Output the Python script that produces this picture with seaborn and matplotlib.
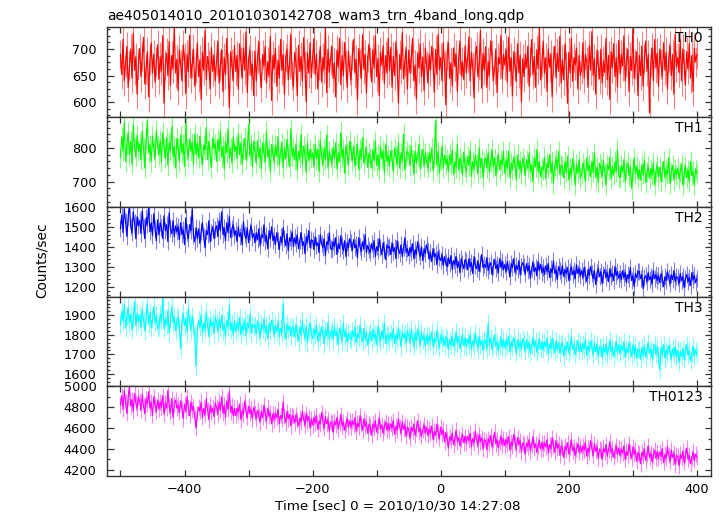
import numpy as np
import pandas as pd
import matplotlib
matplotlib.use("Agg")
import matplotlib.pyplot as plt
import seaborn as sns
from matplotlib.ticker import MultipleLocator, NullFormatter

sns.set_theme(style="ticks")
plt.rcParams["font.family"] = ["DejaVu Sans"]

TITLE = "ae405014010_20101030142708_wam3_trn_4band_long.qdp"
XLABEL = "Time [sec] 0 = 2010/10/30 14:27:08"
YLABEL = "Counts/sec"
bands = ["TH0", "TH1", "TH2", "TH3", "TH0123"]
colors = ["#ff0000", "#00ff00", "#0000ff", "#00ffff", "#ff00ff"]
# typical 1-sigma error bar of each band (counts/sec)
errors = [28, 30, 42, 46, 75]

# time grid of the light curve (seconds from 2010/10/30 14:27:08)
t_start, t_step = -500, 2

th0 = [
    690, 652, 718, 640, 675, 705, 628, 668, 700, 645, 730, 660, 684, 615, 672,
    701, 648, 686, 722, 634, 662, 695, 610, 680, 712, 655, 690, 638, 676, 708,
    643, 685, 660, 725, 598, 670, 692, 650, 714, 632, 688, 664, 741, 655, 680,
    622, 699, 671, 640, 708, 684, 616, 690, 657, 726, 645, 673, 700, 630, 665,
    712, 648, 680, 605, 694, 660, 735, 642, 686, 670, 625, 703, 658, 690, 640,
    677, 715, 636, 668, 699, 620, 684, 652, 720, 664, 590, 695, 672, 640, 706,
    658, 688, 624, 710, 675, 645, 702, 660, 732, 618, 680, 698, 650, 671, 612,
    696, 640, 683, 715, 655, 628, 690, 669, 705, 636, 676, 650, 724, 603, 688,
    664, 702, 630, 679, 645, 718, 660, 690, 615, 684, 700, 642, 672, 728, 650,
    630, 694, 676, 612, 707, 658, 686, 640, 721, 668, 600, 693, 655, 712, 646,
    682, 720, 652, 690, 625, 670, 705, 638, 684, 662, 740, 618, 699, 656, 680,
    705, 645, 674, 610, 698, 666, 720, 633, 688, 650, 712, 671, 628, 696, 660,
    642, 689, 718, 655, 680, 604, 701, 673, 645, 727, 662, 690, 617, 684, 708,
    676, 638, 699, 664, 725, 648, 682, 612, 694, 670, 706, 635, 688, 655, 720,
    660, 703, 628, 686, 650, 714, 672, 598, 690, 662, 731, 644, 678, 700, 625,
    698, 655, 682, 720, 640, 670, 606, 693, 665, 710, 648, 685, 622, 702, 668,
    636, 690, 659, 705, 676, 618, 699, 652, 728, 661, 684, 640, 712, 670, 595,
    688, 712, 645, 674, 630, 702, 667, 690, 620, 683, 715, 650, 676, 642, 706,
    655, 682, 723, 640, 694, 666, 608, 688, 705, 648, 670, 735, 626, 692, 660,
    704, 628, 676, 651, 715, 689, 640, 662, 700, 618, 684, 672, 726, 645, 690,
    670, 700, 638, 722, 658, 684, 612, 695, 667, 640, 710, 655, 688, 600, 682,
    648, 690, 665, 705, 630, 676, 718, 652, 686, 628, 699, 663, 740, 642, 675,
    715, 655, 684, 620, 700, 666, 690, 610, 678, 705, 646, 692, 658, 724, 636,
    680, 642, 710, 668, 598, 694, 655, 720, 640, 684, 670, 702, 625, 688, 650,
    662, 712, 645, 690, 675, 628, 706, 660, 733, 650, 682, 615, 698, 670, 644,
    700, 636, 678, 656, 720, 642, 688, 605, 695, 665, 710, 648, 684, 628, 716,
    654, 690, 668, 725, 640, 676, 700, 620, 686, 660, 738, 645, 672, 695, 612,
    688, 650, 706, 630, 682, 715, 658, 690, 580, 676, 702, 640, 718, 664, 692,
    630, 700, 672, 648, 712, 660, 694, 625, 684, 706, 650, 690, 615, 728, 666,
    684, 656, 718, 640, 700, 672, 632, 695, 662, 710, 645, 688, 620, 702, 676,
    690,
]

th1 = [
    770, 832, 790, 875, 760, 810, 845, 780, 820, 752, 868, 800, 775, 838, 790,
    812, 765, 850, 798, 740, 825, 880, 785, 808, 760, 835, 795, 770, 852, 805,
    780, 822, 758, 845, 800, 770, 830, 748, 815, 792, 862, 775, 805, 740, 828,
    800, 760, 838, 785, 812, 745, 870, 795, 772, 826, 790, 815, 752, 840, 780,
    815, 770, 835, 782, 750, 808, 795, 860, 765, 820, 775, 742, 830, 798, 812,
    760, 825, 790, 848, 772, 805, 738, 818, 785, 856, 770, 800, 755, 832, 790,
    805, 768, 842, 780, 815, 752, 798, 828, 765, 790, 870, 775, 812, 745, 820,
    790, 755, 822, 770, 800, 738, 815, 785, 760, 848, 772, 795, 730, 810, 782,
    760, 808, 775, 832, 750, 790, 815, 742, 800, 768, 825, 780, 745, 856, 775,
    798, 765, 812, 735, 790, 770, 840, 752, 805, 780, 728, 815, 762, 795, 770,
    785, 745, 810, 768, 795, 730, 822, 775, 750, 800, 765, 838, 740, 790, 772,
    752, 800, 770, 815, 738, 785, 760, 845, 772, 795, 725, 808, 780, 750, 820,
    790, 762, 805, 745, 780, 812, 735, 795, 770, 830, 755, 778, 800, 742, 785,
    770, 740, 795, 762, 820, 748, 780, 735, 805, 768, 790, 725, 812, 760, 778,
    745, 792, 768, 730, 800, 775, 752, 815, 740, 785, 762, 840, 735, 772, 790,
    780, 748, 806, 765, 722, 790, 755, 775, 810, 738, 770, 795, 745, 785, 760,
    742, 785, 760, 800, 732, 770, 880, 748, 790, 725, 765, 805, 740, 778, 752,
    768, 730, 780, 752, 795, 722, 760, 742, 810, 735, 770, 755, 720, 788, 745,
    730, 775, 748, 792, 715, 760, 738, 780, 752, 725, 800, 742, 768, 712, 758,
    770, 740, 785, 728, 760, 795, 745, 770, 718, 755, 780, 735, 765, 750, 790,
    725, 765, 742, 790, 712, 755, 735, 772, 748, 705, 780, 738, 760, 722, 770,
    752, 718, 765, 740, 785, 728, 750, 700, 770, 745, 795, 730, 758, 715, 742,
    735, 772, 710, 755, 742, 780, 725, 760, 695, 748, 768, 738, 790, 720, 750,
    745, 712, 760, 728, 775, 705, 740, 720, 768, 735, 690, 752, 725, 765, 710,
    722, 755, 738, 700, 770, 732, 748, 715, 760, 728, 785, 712, 742, 698, 755,
    740, 715, 762, 725, 690, 750, 735, 772, 708, 745, 720, 760, 730, 795, 715,
    712, 748, 728, 765, 700, 738, 755, 718, 742, 680, 730, 770, 722, 745, 710,
    735, 705, 750, 722, 765, 698, 728, 745, 710, 738, 720, 755, 690, 732, 748,
    715, 742, 700, 730, 760, 712, 735, 722, 770, 695, 728, 748, 705, 738, 720,
    740, 708, 728, 752, 690, 722, 745, 712, 735, 700, 760, 718, 730, 690, 738,
    725,
]

th2 = [
    1490, 1560, 1470, 1590, 1525, 1450, 1545, 1610, 1500, 1470, 1575, 1520, 1440, 1550, 1505,
    1530, 1465, 1580, 1495, 1440, 1545, 1510, 1600, 1475, 1520, 1455, 1565, 1490, 1430, 1535,
    1460, 1520, 1495, 1440, 1555, 1480, 1510, 1425, 1570, 1490, 1465, 1530, 1450, 1505, 1475,
    1500, 1435, 1520, 1460, 1485, 1410, 1545, 1470, 1440, 1510, 1480, 1590, 1455, 1425, 1495,
    1440, 1490, 1415, 1475, 1520, 1450, 1395, 1480, 1460, 1530, 1425, 1470, 1500, 1440, 1485,
    1505, 1450, 1530, 1480, 1575, 1460, 1495, 1430, 1520, 1470, 1550, 1445, 1490, 1510, 1455,
    1480, 1425, 1500, 1450, 1470, 1410, 1525, 1460, 1440, 1495, 1420, 1475, 1505, 1445, 1465,
    1420, 1470, 1435, 1490, 1405, 1460, 1445, 1510, 1425, 1455, 1390, 1480, 1440, 1500, 1430,
    1455, 1410, 1470, 1430, 1385, 1450, 1420, 1495, 1440, 1405, 1465, 1380, 1445, 1425, 1475,
    1400, 1445, 1415, 1460, 1390, 1430, 1470, 1405, 1425, 1365, 1450, 1420, 1480, 1395, 1435,
    1430, 1385, 1450, 1405, 1420, 1370, 1460, 1415, 1395, 1440, 1355, 1425, 1410, 1470, 1390,
    1385, 1425, 1400, 1445, 1360, 1415, 1390, 1455, 1405, 1380, 1430, 1350, 1420, 1395, 1440,
    1420, 1380, 1435, 1395, 1410, 1345, 1445, 1400, 1375, 1425, 1390, 1460, 1370, 1405, 1385,
    1370, 1415, 1385, 1430, 1350, 1400, 1380, 1440, 1395, 1360, 1420, 1385, 1335, 1410, 1395,
    1400, 1360, 1420, 1375, 1395, 1340, 1430, 1385, 1365, 1410, 1350, 1395, 1445, 1370, 1390,
    1355, 1395, 1370, 1415, 1340, 1385, 1360, 1425, 1375, 1350, 1400, 1330, 1390, 1365, 1410,
    1380, 1340, 1370, 1325, 1390, 1350, 1365, 1310, 1375, 1345, 1330, 1360, 1305, 1350, 1320,
    1300, 1345, 1315, 1355, 1285, 1330, 1310, 1350, 1295, 1325, 1270, 1340, 1315, 1290, 1335,
    1325, 1285, 1340, 1300, 1320, 1265, 1350, 1305, 1290, 1330, 1275, 1315, 1360, 1295, 1310,
    1295, 1345, 1280, 1305, 1320, 1260, 1300, 1335, 1290, 1310, 1270, 1340, 1295, 1325, 1285,
    1310, 1275, 1325, 1290, 1250, 1315, 1295, 1340, 1270, 1305, 1285, 1330, 1260, 1300, 1320,
    1300, 1265, 1315, 1280, 1305, 1240, 1290, 1320, 1275, 1295, 1255, 1325, 1280, 1310, 1270,
    1295, 1260, 1305, 1275, 1315, 1245, 1290, 1270, 1330, 1265, 1285, 1235, 1300, 1280, 1260,
    1305, 1250, 1285, 1265, 1295, 1230, 1275, 1300, 1260, 1280, 1240, 1310, 1265, 1290, 1255,
    1280, 1245, 1295, 1260, 1225, 1285, 1255, 1300, 1265, 1240, 1280, 1210, 1270, 1290, 1250,
    1275, 1215, 1260, 1285, 1245, 1270, 1225, 1290, 1250, 1265, 1230, 1300, 1255, 1275, 1240,
    1265, 1235, 1280, 1245, 1270, 1220, 1260, 1240, 1295, 1230, 1255, 1200, 1265, 1245, 1275,
    1275, 1240, 1260, 1190, 1245, 1255, 1225, 1270, 1235, 1250, 1215, 1280, 1240, 1260, 1230,
    1255, 1220, 1265, 1240, 1200, 1250, 1230, 1275, 1245, 1215, 1260, 1235, 1280, 1225, 1250,
    1245, 1215, 1265, 1230, 1250, 1195, 1240, 1260, 1225, 1245, 1205, 1270, 1235, 1255, 1220,
    1240,
]

th3 = [
    1850, 1920, 1870, 1955, 1835, 1895, 1940, 1860, 1905, 1825, 1880, 1970, 1845, 1910, 1865,
    1900, 1840, 1930, 1875, 1820, 1890, 1960, 1855, 1915, 1835, 1880, 1945, 1860, 1900, 1830,
    1845, 1905, 1870, 1990, 1830, 1885, 1850, 1925, 1810, 1875, 1940, 1860, 1895, 1820, 1880,
    1890, 1835, 1730, 1870, 1910, 1845, 1880, 1815, 1935, 1860, 1825, 1895, 1850, 1800, 1640,
    1820, 1875, 1840, 1905, 1810, 1860, 1830, 1920, 1850, 1790, 1880, 1845, 1865, 1805, 1890,
    1860, 1815, 1880, 1835, 1900, 1820, 1855, 1790, 1875, 1840, 1950, 1825, 1860, 1800, 1870,
    1815, 1865, 1830, 1890, 1800, 1850, 1825, 1880, 1795, 1860, 1835, 1905, 1810, 1855, 1840,
    1850, 1805, 1870, 1825, 1790, 1855, 1830, 1885, 1810, 1845, 1780, 1860, 1820, 1875, 1835,
    1800, 1850, 1815, 1870, 1790, 1835, 1810, 1960, 1820, 1780, 1855, 1825, 1845, 1795, 1840,
    1835, 1790, 1855, 1810, 1770, 1840, 1800, 1870, 1815, 1785, 1845, 1760, 1825, 1860, 1805,
    1780, 1830, 1800, 1850, 1765, 1815, 1790, 1840, 1805, 1755, 1825, 1795, 1865, 1775, 1810,
    1825, 1780, 1845, 1795, 1815, 1750, 1835, 1800, 1770, 1860, 1790, 1820, 1760, 1810, 1785,
    1775, 1820, 1790, 1840, 1760, 1805, 1785, 1850, 1795, 1765, 1830, 1780, 1810, 1745, 1800,
    1815, 1770, 1830, 1785, 1805, 1750, 1845, 1790, 1765, 1820, 1780, 1860, 1755, 1800, 1795,
    1770, 1810, 1780, 1830, 1755, 1800, 1775, 1835, 1790, 1740, 1815, 1785, 1805, 1760, 1820,
    1800, 1760, 1825, 1780, 1745, 1810, 1770, 1830, 1785, 1750, 1815, 1775, 1795, 1740, 1800,
    1755, 1795, 1770, 1815, 1740, 1780, 1760, 1825, 1775, 1735, 1800, 1765, 1785, 1745, 1790,
    1780, 1725, 1775, 1750, 1795, 1740, 1770, 1815, 1755, 1790, 1730, 1760, 1800, 1745, 1785,
    1740, 1780, 1755, 1800, 1725, 1770, 1745, 1810, 1760, 1730, 1790, 1750, 1770, 1720, 1775,
    1770, 1730, 1860, 1745, 1785, 1725, 1755, 1800, 1740, 1765, 1720, 1750, 1790, 1735, 1775,
    1735, 1770, 1745, 1795, 1715, 1760, 1740, 1785, 1750, 1710, 1775, 1735, 1765, 1725, 1780,
    1755, 1715, 1775, 1730, 1760, 1705, 1745, 1790, 1735, 1770, 1710, 1740, 1780, 1725, 1765,
    1725, 1765, 1740, 1785, 1700, 1755, 1730, 1780, 1745, 1710, 1770, 1725, 1760, 1705, 1750,
    1760, 1690, 1745, 1720, 1765, 1705, 1740, 1790, 1725, 1750, 1700, 1735, 1770, 1715, 1755,
    1715, 1755, 1730, 1775, 1695, 1745, 1720, 1770, 1735, 1700, 1760, 1715, 1750, 1690, 1740,
    1735, 1685, 1745, 1710, 1755, 1695, 1730, 1775, 1715, 1740, 1690, 1725, 1765, 1710, 1750,
    1705, 1745, 1720, 1765, 1685, 1735, 1710, 1760, 1725, 1690, 1750, 1705, 1740, 1680, 1730,
    1725, 1675, 1735, 1700, 1745, 1685, 1720, 1760, 1705, 1730, 1680, 1715, 1750, 1700, 1735,
    1695, 1620, 1735, 1705, 1750, 1680, 1720, 1700, 1745, 1710, 1675, 1730, 1695, 1740, 1685,
    1720, 1660, 1715, 1690, 1730, 1675, 1710, 1750, 1695, 1720, 1665, 1700, 1740, 1690, 1725,
    1700,
]

th0123 = [
    4820, 4910, 4780, 4960, 4850, 4740, 4890, 5000, 4810, 4870, 4760, 4930, 4840, 4790, 4900,
    4860, 4770, 4920, 4810, 4740, 4880, 4830, 4950, 4790, 4850, 4720, 4900, 4820, 4760, 4870,
    4780, 4850, 4800, 4910, 4730, 4840, 4790, 4960, 4810, 4750, 4880, 4700, 4830, 4870, 4790,
    4820, 4750, 4860, 4780, 4690, 4830, 4760, 4900, 4790, 4720, 4850, 4770, 4810, 4700, 4600,
    4740, 4800, 4760, 4850, 4700, 4790, 4730, 4880, 4770, 4680, 4820, 4750, 4790, 4710, 4840,
    4800, 4730, 4850, 4770, 4900, 4740, 4820, 4700, 4860, 4780, 4950, 4750, 4810, 4720, 4790,
    4720, 4790, 4750, 4830, 4680, 4770, 4730, 4860, 4760, 4700, 4810, 4740, 4780, 4690, 4800,
    4750, 4690, 4770, 4720, 4660, 4760, 4700, 4820, 4730, 4670, 4790, 4710, 4750, 4640, 4740,
    4680, 4740, 4700, 4780, 4640, 4720, 4690, 4850, 4710, 4650, 4760, 4690, 4730, 4620, 4720,
    4710, 4650, 4730, 4680, 4620, 4700, 4660, 4760, 4690, 4630, 4740, 4670, 4710, 4600, 4690,
    4630, 4700, 4650, 4720, 4590, 4670, 4640, 4750, 4660, 4600, 4710, 4640, 4680, 4570, 4660,
    4650, 4560, 4670, 4630, 4700, 4590, 4650, 4730, 4620, 4660, 4580, 4640, 4690, 4610, 4670,
    4610, 4670, 4630, 4700, 4570, 4650, 4610, 4720, 4640, 4580, 4690, 4620, 4660, 4550, 4640,
    4620, 4530, 4640, 4600, 4670, 4560, 4620, 4700, 4590, 4630, 4550, 4610, 4660, 4580, 4640,
    4580, 4640, 4600, 4670, 4540, 4620, 4580, 4690, 4610, 4550, 4660, 4590, 4630, 4520, 4610,
    4590, 4500, 4610, 4570, 4640, 4530, 4590, 4670, 4560, 4600, 4520, 4580, 4630, 4550, 4610,
    4530, 4590, 4550, 4620, 4490, 4570, 4530, 4640, 4560, 4500, 4610, 4540, 4580, 4470, 4560,
    4500, 4410, 4520, 4480, 4550, 4440, 4500, 4580, 4470, 4510, 4430, 4490, 4540, 4460, 4520,
    4460, 4520, 4480, 4550, 4420, 4500, 4460, 4570, 4490, 4430, 4540, 4470, 4510, 4400, 4490,
    4480, 4390, 4500, 4460, 4530, 4420, 4480, 4560, 4450, 4490, 4410, 4470, 4520, 4440, 4500,
    4430, 4490, 4450, 4520, 4390, 4470, 4430, 4540, 4460, 4400, 4510, 4440, 4480, 4370, 4460,
    4440, 4350, 4460, 4420, 4490, 4380, 4440, 4520, 4410, 4450, 4370, 4430, 4480, 4400, 4460,
    4400, 4460, 4420, 4490, 4360, 4440, 4400, 4510, 4430, 4370, 4480, 4410, 4450, 4340, 4430,
    4410, 4320, 4430, 4390, 4460, 4350, 4410, 4490, 4380, 4420, 4340, 4400, 4450, 4370, 4430,
    4370, 4430, 4390, 4460, 4330, 4410, 4370, 4480, 4400, 4340, 4450, 4380, 4420, 4310, 4400,
    4390, 4300, 4410, 4370, 4440, 4330, 4390, 4470, 4360, 4400, 4320, 4380, 4430, 4350, 4410,
    4340, 4400, 4360, 4430, 4300, 4380, 4340, 4450, 4370, 4310, 4420, 4350, 4390, 4280, 4370,
    4350, 4260, 4370, 4330, 4400, 4290, 4350, 4430, 4320, 4360, 4280, 4340, 4390, 4310, 4370,
    4310, 4370, 4330, 4400, 4270, 4350, 4310, 4420, 4340, 4280, 4390, 4320, 4360, 4250, 4340,
    4330, 4240, 4350, 4310, 4380, 4270, 4330, 4410, 4300, 4340, 4260, 4320, 4370, 4290, 4350,
    4320,
]

series = [th0, th1, th2, th3, th0123]

W, H = 723, 516
fig = plt.figure(figsize=(W / 100, H / 100), dpi=100)

left_px, right_px = 107, 711
top_px, bottom_px = 27.3, 476
ph = (bottom_px - top_px) / 5

ylims = [(572, 741), (626, 891), (1150, 1600), (1537, 1996), (4142, 5000)]
majors = [50, 100, 100, 100, 200]
minors = [12.5, 20, 20, 20, 100]
frame_col = "#333333"

for i, (name, col, vals, err) in enumerate(zip(bands, colors, series, errors)):
    y0 = top_px + i * ph
    ax = fig.add_axes([left_px / W, 1 - (y0 + ph) / H, (right_px - left_px) / W, ph / H])
    t = t_start + t_step * np.arange(len(vals))
    df = pd.DataFrame({"time": t, "rate": vals})
    ax.errorbar(df["time"], df["rate"], yerr=err, fmt="none", ecolor=col,
                elinewidth=0.8, alpha=0.5, capsize=0)
    sns.lineplot(data=df, x="time", y="rate", ax=ax, color=col, linewidth=0.85,
                 estimator=None, errorbar=None)
    ax.set_xlim(-521, 422)
    ax.set_ylim(*ylims[i])
    ax.set_xlabel("")
    ax.set_ylabel("")
    ax.set_facecolor("white")
    for sp in ax.spines.values():
        sp.set_color(frame_col)
        sp.set_linewidth(1.0)
        sp.set_visible(True)
        sp.set_zorder(5)
    ax.xaxis.set_major_locator(MultipleLocator(200))
    ax.xaxis.set_minor_locator(MultipleLocator(100))
    ax.yaxis.set_major_locator(MultipleLocator(majors[i]))
    ax.yaxis.set_minor_locator(MultipleLocator(minors[i]))
    ax.tick_params(axis="both", which="both", direction="in", top=True, right=True,
                   color=frame_col, width=0.9)
    ax.tick_params(axis="x", which="both", length=6.3 * 0.72)
    ax.tick_params(axis="y", which="major", length=6.5 * 0.72)
    ax.tick_params(axis="y", which="minor", length=3.3 * 0.72)
    ax.tick_params(axis="y", which="major", labelsize=9.3, pad=7.5, labelcolor="black")
    ax.tick_params(axis="x", which="major", labelsize=9.3, pad=5, labelcolor="black")
    if i < 4:
        ax.xaxis.set_major_formatter(NullFormatter())
    ax.text(1 - 8 / (right_px - left_px), 1 - 4.0 / ph, name, transform=ax.transAxes,
            ha="right", va="top", fontsize=9.9, color="black", zorder=6)

fig.text(left_px / W, 1 - 20 / H, TITLE, ha="left", va="baseline", fontsize=9.9, color="black")
fig.text(397.5 / W, 1 - 506 / H, XLABEL, ha="center", va="center", fontsize=9.7, color="black")
fig.text(42 / W, 1 - 260 / H, YLABEL, ha="center", va="center", rotation=90,
         fontsize=9.9, color="black")

fig.savefig("out.png", dpi=100, facecolor="white")
